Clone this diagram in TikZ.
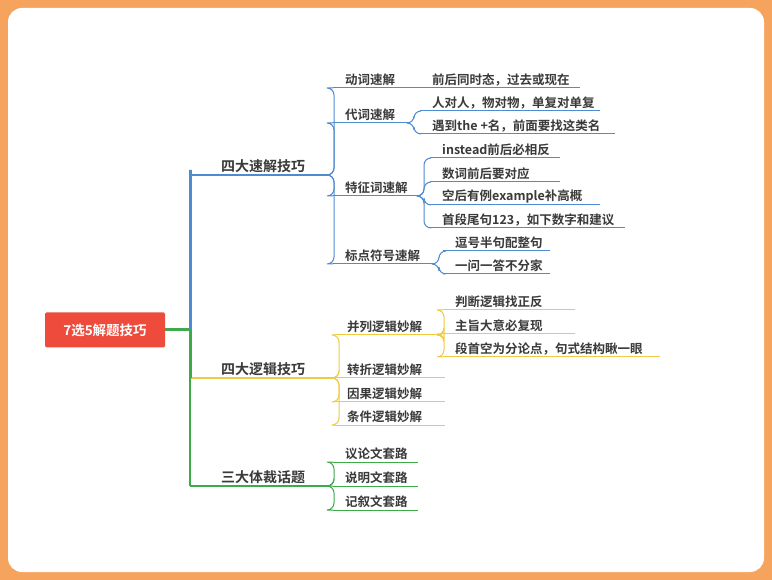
\documentclass[tikz,border=0pt]{standalone}
\usepackage{fontspec}
\setmainfont{Noto Sans CJK SC}[BoldFont={Noto Sans CJK SC Bold}]
\definecolor{cb}{HTML}{4F8BD0}
\definecolor{cy}{HTML}{F0CA40}
\definecolor{cg}{HTML}{3DAA4C}
\definecolor{tx}{HTML}{3A3A3A}
\definecolor{bord}{HTML}{F6A35E}
\definecolor{rootc}{HTML}{EF4B3C}
\newcommand{\leaf}[6]{%
  \node[lbl] (#1) at (#2,#3) {#5};
  \draw[#6,line width=1pt] (#1.south west) -- (#4,#3) coordinate (#1-e);}
\newcommand{\conn}[3]{\draw[#3,line width=1pt,rounded corners=7pt] (#1) -- ++(4,0) |- (#2.south west);}
\begin{document}
\begin{tikzpicture}[x=1pt,y=-1pt,
  lbl/.style={anchor=south west,inner xsep=12pt,inner ysep=2pt,text=tx,font=\fontsize{12.5}{14}\selectfont\bfseries}]
\useasboundingbox (0,0) rectangle (772,580);
\fill[bord] (0,0) rectangle (772,580);
\fill[white,rounded corners=14pt] (8,8) rectangle (764,572);
\node[fill=rootc,text=white,minimum width=120pt,minimum height=35pt,rounded corners=1.5pt,font=\fontsize{13.5}{15}\selectfont\bfseries] (root) at (105,330) {7选5解题技巧};
\coordinate (t) at (190,330);
\draw[cg,line width=3pt] (root.east) -- (t);
% level 1
\node[lbl,inner xsep=31pt,font=\fontsize{14}{16}\selectfont\bfseries] (A) at (190,175) {四大速解技巧};
\draw[cb,line width=1.2pt] (A.south west)--(330,175) coordinate (A-e);
\node[lbl,inner xsep=31pt,font=\fontsize{14}{16}\selectfont\bfseries] (B) at (190,378) {四大逻辑技巧};
\draw[cy,line width=1.2pt] (B.south west)--(335,378) coordinate (B-e);
\node[lbl,inner xsep=31pt,font=\fontsize{14}{16}\selectfont\bfseries] (C) at (190,486) {三大体裁话题};
\draw[cg,line width=1.2pt] (C.south west)--(330,486) coordinate (C-e);
\draw[cb,line width=3pt,rounded corners=5pt] (t) -- ++(0,-60) |- (A.south west);
\draw[cy,line width=1.5pt] (t) |- (B.south west);
\draw[cg,line width=3pt] (t) -- ++(0,48);
\draw[cg,line width=1.5pt,rounded corners=5pt] (190,378) |- (C.south west);
% blue
\leaf{a1}{333}{88}{420}{动词速解}{cb}
\leaf{a2}{333}{123}{410}{代词速解}{cb}
\leaf{a3}{333}{196}{420}{特征词速解}{cb}
\leaf{a4}{333}{264}{435}{标点符号速解}{cb}
\foreach \n in {a1,a2,a3,a4}{\conn{A-e}{\n}{cb}}
\leaf{a11}{420}{88}{580}{前后同时态，过去或现在}{cb}
\leaf{a21}{420}{111}{600}{人对人，物对物，单复对单复}{cb}
\leaf{a22}{420}{134}{615}{遇到the +名，前面要找这类名}{cb}
\foreach \n in {a21,a22}{\conn{a2-e}{\n}{cb}}
\leaf{a31}{430}{158}{560}{instead前后必相反}{cb}
\leaf{a32}{430}{182}{560}{数词前后要对应}{cb}
\leaf{a33}{430}{205}{600}{空后有例example补高概}{cb}
\leaf{a34}{430}{228}{625}{首段尾句123，如下数字和建议}{cb}
\foreach \n in {a31,a32,a33,a34}{\conn{a3-e}{\n}{cb}}
\leaf{a41}{443}{251}{550}{逗号半句配整句}{cb}
\leaf{a42}{443}{274}{550}{一问一答不分家}{cb}
\foreach \n in {a41,a42}{\conn{a4-e}{\n}{cb}}
% yellow
\leaf{b1}{335}{335}{440}{并列逻辑妙解}{cy}
\leaf{b2}{335}{378}{445}{转折逻辑妙解}{cy}
\leaf{b3}{335}{402}{445}{因果逻辑妙解}{cy}
\leaf{b4}{335}{425}{445}{条件逻辑妙解}{cy}
\foreach \n in {b1,b2,b3,b4}{\conn{B-e}{\n}{cy}}
\leaf{b11}{443}{310}{575}{判断逻辑找正反}{cy}
\leaf{b12}{443}{334}{575}{主旨大意必复现}{cy}
\leaf{b13}{443}{357}{660}{段首空为分论点，句式结构瞅一眼}{cy}
\foreach \n in {b11,b12,b13}{\conn{b1-e}{\n}{cy}}
% green
\leaf{c1}{333}{462}{418}{议论文套路}{cg}
\leaf{c2}{333}{486}{418}{说明文套路}{cg}
\leaf{c3}{333}{510}{418}{记叙文套路}{cg}
\foreach \n in {c1,c2,c3}{\conn{C-e}{\n}{cg}}
\end{tikzpicture}
\end{document}
